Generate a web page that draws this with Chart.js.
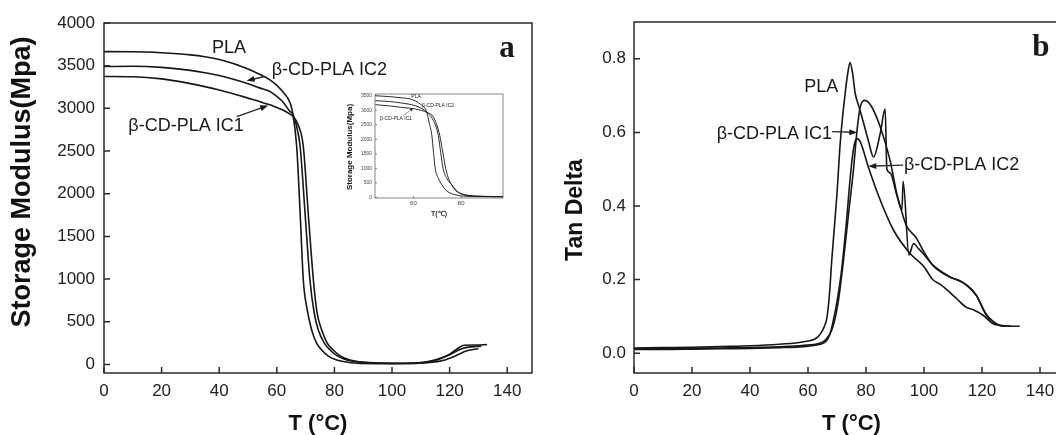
<!DOCTYPE html>
<html>
<head>
<meta charset="utf-8">
<script src="https://cdn.jsdelivr.net/npm/chart.js@4.4.1/dist/chart.umd.min.js"></script>
<style>
  html, body { margin: 0; padding: 0; background: #fff; overflow: hidden; }
  #wrap { position: relative; width: 1056px; height: 435px; overflow: hidden; }
  canvas { position: absolute; }
</style>
</head>
<body>
<div id="wrap">
  <canvas id="modulus" width="540" height="435" style="left:0;top:0"></canvas>
  <canvas id="tandelta" width="540" height="435" style="left:540px;top:0"></canvas>
  <canvas id="inset" width="180" height="140" style="left:330px;top:84px"></canvas>
</div>
<script>
// ---- data ----
// (a) storage modulus, MPa vs T in C
var plaT = [0, 10, 20, 30, 35, 40, 44, 47, 50, 54, 57.6, 60, 62, 64.6, 65.5, 66.9, 68.1, 69.2, 70.5, 72.1, 73.8, 75.6, 78, 80.8, 84, 87.7, 95, 105, 110, 114, 117, 120, 123.6, 125, 129, 133];
var plaE = [3665, 3664, 3652, 3627, 3605, 3572, 3535, 3500, 3462, 3400, 3334, 3270, 3197, 3065, 2950, 2553, 1775, 990, 650, 404, 250, 170, 95, 53, 28, 14, 10, 12, 18, 35, 70, 120, 205, 225, 228, 232];
var ic2T = [0, 10, 20, 30, 35, 40, 44, 47, 50, 54, 57.6, 60, 62, 64.6, 65.5, 66.8, 68.1, 69.8, 71.5, 73, 74.4, 76.5, 78.5, 81, 84.3, 88, 95, 105, 110, 114, 117, 120, 123.6, 126, 131];
var ic2E = [3490, 3493, 3480, 3445, 3418, 3385, 3350, 3320, 3288, 3240, 3197, 3140, 3080, 2963, 2935, 2800, 2553, 1775, 990, 600, 404, 250, 170, 100, 53, 30, 18, 15, 22, 45, 75, 115, 175, 200, 215];
var ic1T = [0, 10, 20, 30, 35, 40, 44, 47, 50, 54, 57.6, 60, 62, 64.6, 65.5, 67.5, 69.2, 70.9, 72.7, 74, 75.6, 77.5, 79.6, 82, 85.4, 90, 100, 110, 114, 118, 122, 126, 130];
var ic1E = [3373, 3370, 3345, 3290, 3255, 3215, 3180, 3150, 3120, 3080, 3041, 3010, 2983, 2932, 2910, 2800, 2553, 1775, 990, 600, 404, 250, 170, 100, 53, 25, 12, 15, 25, 50, 100, 160, 185];

// inset of (a)
var inPlaT = [44, 50, 55, 58.6, 62.8, 65.6, 66.5, 67.7, 68.4, 69.1, 70.5, 71.9, 74, 77.5, 82, 90, 97.5];
var inPlaE = [3500, 3470, 3430, 3388, 3217, 2930, 2600, 2137, 1550, 1001, 650, 432, 220, 92, 40, 25, 20];
var inIc2T = [44, 50, 55, 60.7, 63.5, 65.6, 68, 70.4, 71.4, 72.4, 74, 76, 78.5, 81.7, 88, 97.5];
var inIc2E = [3330, 3300, 3250, 3160, 3060, 2930, 2700, 2137, 1550, 1001, 650, 432, 200, 92, 40, 25];
var inIc1T = [44, 50, 55, 60.7, 63.5, 65.6, 68.5, 71, 72.4, 73.5, 74.5, 76, 77.5, 80, 83, 90, 97.5];
var inIc1E = [3193, 3150, 3100, 3046, 2990, 2930, 2750, 2137, 1500, 1001, 700, 432, 250, 120, 60, 35, 25];

// (b) tan delta vs T in C
var tdPlaT = [0, 10, 20, 30, 40, 50, 57, 60, 62, 63.5, 64.5, 65.5, 66.5, 67.4, 68.2, 70, 71.1, 72.8, 73.8, 74.5, 75.3, 76.3, 77.5, 78.6, 80.8, 82.6, 84.9, 86.6, 87.2, 88.3, 90.6, 92.4, 92.8, 94.8, 96.4, 98, 100, 103, 108.8, 114.6, 118, 121.5, 124, 126, 133];
var tdPla = [0.014, 0.015, 0.016, 0.018, 0.02, 0.024, 0.029, 0.033, 0.037, 0.045, 0.055, 0.07, 0.095, 0.16, 0.253, 0.434, 0.57, 0.705, 0.765, 0.79, 0.765, 0.705, 0.672, 0.642, 0.578, 0.533, 0.597, 0.664, 0.5, 0.49, 0.43, 0.39, 0.467, 0.267, 0.298, 0.285, 0.268, 0.24, 0.208, 0.186, 0.158, 0.105, 0.085, 0.076, 0.073];
var tdIc1T = [0, 10, 20, 30, 40, 50, 57, 60, 63, 65, 66.5, 68.2, 69.5, 70.8, 72.2, 74, 75.7, 76.8, 78, 79.7, 82, 84.9, 88.3, 90.6, 92.5, 94, 97.2, 100, 103, 108.8, 112, 114.6, 118, 121.5, 124, 126, 128];
var tdIc1 = [0.012, 0.012, 0.013, 0.014, 0.015, 0.017, 0.02, 0.022, 0.025, 0.03, 0.04, 0.063, 0.1, 0.16, 0.25, 0.38, 0.5, 0.597, 0.669, 0.687, 0.669, 0.615, 0.524, 0.434, 0.38, 0.345, 0.315, 0.275, 0.239, 0.207, 0.198, 0.185, 0.157, 0.103, 0.085, 0.075, 0.073];
var tdIc2T = [0, 10, 20, 30, 40, 50, 57, 60, 63, 65.5, 66.5, 67.5, 68.5, 70, 71.5, 73.1, 74.8, 75.8, 76.8, 78, 80.8, 84.9, 89.5, 95.2, 100, 103, 106, 111, 114.5, 117, 120.4, 123.8, 127, 130];
var tdIc2 = [0.01, 0.01, 0.011, 0.012, 0.013, 0.015, 0.017, 0.019, 0.022, 0.028, 0.035, 0.05, 0.08, 0.14, 0.22, 0.343, 0.497, 0.56, 0.583, 0.575, 0.506, 0.416, 0.334, 0.271, 0.235, 0.2, 0.185, 0.15, 0.125, 0.118, 0.103, 0.08, 0.075, 0.073];

// tick values
var tempTicks = [0, 20, 40, 60, 80, 100, 120, 140];
var modTicks = [0, 500, 1000, 1500, 2000, 2500, 3000, 3500, 4000];
var tanTicks = [0, 0.2, 0.4, 0.6, 0.8];
var inTempTicks = [60, 80];
var inModTicks = [0, 500, 1000, 1500, 2000, 2500, 3000, 3500];

Chart.defaults.font.family = "'Liberation Sans', Arial, sans-serif";
Chart.defaults.color = '#222';

function lineSet(xs, ys, w) {
  return {
    data: xs.map(function (x, i) { return { x: x, y: ys[i] }; }),
    borderColor: '#161616',
    borderWidth: w,
    pointRadius: 0,
    fill: false,
    cubicInterpolationMode: 'monotone'
  };
}

function useTicks(vals) {
  return function (scale) {
    scale.ticks = vals.map(function (v) { return { value: v }; });
  };
}

function drawArrow(ctx, x0, y0, x1, y1, h, w) {
  var a = Math.atan2(y1 - y0, x1 - x0);
  var c = Math.cos(a), s = Math.sin(a);
  ctx.beginPath();
  ctx.moveTo(x0, y0);
  ctx.lineTo(x1 - h * 0.7 * c, y1 - h * 0.7 * s);
  ctx.stroke();
  ctx.beginPath();
  ctx.moveTo(x1, y1);
  ctx.lineTo(x1 - h * c + w * s, y1 - h * s - w * c);
  ctx.lineTo(x1 - h * c - w * s, y1 - h * s + w * c);
  ctx.closePath();
  ctx.fill();
}

// frame, inward ticks, labels on the curves, arrows and the y title
var decor = {
  id: 'decor',
  afterDraw: function (chart, args, o) {
    var ctx = chart.ctx, a = chart.chartArea;
    var sx = chart.scales.x, sy = chart.scales.y;
    ctx.save();
    ctx.strokeStyle = o.frameColor || '#2a2a2a';
    ctx.fillStyle = '#1a1a1a';
    ctx.lineWidth = o.frameWidth || 1.5;
    ctx.strokeRect(a.left, a.top, a.right - a.left, a.bottom - a.top);
    var len = o.tickLen || 6;
    ctx.beginPath();
    sx.ticks.forEach(function (t) {
      var p = sx.getPixelForValue(t.value);
      ctx.moveTo(p, a.bottom);
      ctx.lineTo(p, a.bottom - len);
    });
    sy.ticks.forEach(function (t) {
      var p = sy.getPixelForValue(t.value);
      ctx.moveTo(a.left, p);
      ctx.lineTo(a.left + len, p);
    });
    ctx.stroke();

    ctx.textBaseline = 'middle';
    (o.notes || []).forEach(function (n) {
      ctx.font = n.font;
      ctx.textAlign = n.align || 'left';
      ctx.fillText(n.text, sx.getPixelForValue(n.at[0]), sy.getPixelForValue(n.at[1]));
    });
    ctx.lineWidth = o.arrowWidth || 1.4;
    (o.arrows || []).forEach(function (r) {
      drawArrow(ctx,
        sx.getPixelForValue(r.from[0]), sy.getPixelForValue(r.from[1]),
        sx.getPixelForValue(r.to[0]), sy.getPixelForValue(r.to[1]),
        o.headLen || 8, o.headHalf || 3);
    });
    if (o.yTitle) {
      ctx.save();
      ctx.translate(o.yTitle.x, o.yTitle.y);
      ctx.rotate(-Math.PI / 2);
      ctx.textAlign = 'center';
      ctx.font = o.yTitle.font;
      ctx.fillStyle = '#111';
      ctx.fillText(o.yTitle.text, 0, 0);
      ctx.restore();
    }
    ctx.restore();
  }
};

var noteFont = "18px 'Liberation Sans', Arial, sans-serif";
var letterFont = "bold 31px 'Liberation Serif', 'Times New Roman', serif";
var titleFont = "bold 27px 'Liberation Sans', Arial, sans-serif";

function baseOptions(pad, yWidth, xHeight) {
  return {
    responsive: false,
    animation: false,
    events: [],
    layout: { padding: pad },
    plugins: { legend: { display: false }, tooltip: { enabled: false } },
    scales: {
      x: {
        type: 'linear',
        afterFit: function (s) { s.height = xHeight; },
        grid: { display: false, drawTicks: false },
        border: { display: false },
        ticks: { maxRotation: 0, autoSkip: false }
      },
      y: {
        type: 'linear',
        afterFit: function (s) { s.width = yWidth; },
        grid: { display: false, drawTicks: false },
        border: { display: false },
        ticks: { autoSkip: false }
      }
    }
  };
}

// ---- (a) storage modulus ----
var optA = baseOptions({ top: 23, right: 8, left: 0, bottom: 0 }, 104, 62);
optA.scales.x.min = 0;
optA.scales.x.max = 148.6;
optA.scales.x.afterBuildTicks = useTicks(tempTicks);
optA.scales.x.ticks.padding = 8;
optA.scales.x.ticks.font = { size: 17 };
optA.scales.x.title = { display: true, text: 'T (°C)', color: '#111', font: { size: 22, weight: 'bold', lineHeight: 1 }, padding: 0 };
optA.scales.y.min = -100;
optA.scales.y.max = 4000;
optA.scales.y.afterBuildTicks = useTicks(modTicks);
optA.scales.y.ticks.padding = 9;
optA.scales.y.ticks.font = { size: 17 };
optA.scales.y.ticks.callback = function (v) { return String(v); };
optA.plugins.decor = {
  yTitle: { text: 'Storage Modulus(Mpa)', x: 23, y: 182, font: titleFont },
  notes: [
    { text: 'PLA', at: [43.4, 3706], align: 'center', font: noteFont },
    { text: 'β-CD-PLA IC2', at: [58.2, 3452], font: noteFont },
    { text: 'β-CD-PLA IC1', at: [8.45, 2797], font: noteFont },
    { text: 'a', at: [139.9, 3690], align: 'center', font: letterFont }
  ],
  arrows: [
    { from: [55.7, 3373], to: [49.5, 3323] },
    { from: [46.1, 2904], to: [57, 3033] }
  ]
};

new Chart(document.getElementById('modulus'), {
  type: 'line',
  data: { datasets: [lineSet(plaT, plaE, 1.6), lineSet(ic2T, ic2E, 1.6), lineSet(ic1T, ic1E, 1.6)] },
  options: optA,
  plugins: [decor]
});

// ---- inset of (a) ----
var optI = baseOptions({ top: 10, right: 7, left: 0, bottom: 0 }, 45, 26);
optI.scales.x.min = 43.9;
optI.scales.x.max = 97.5;
optI.scales.x.afterBuildTicks = useTicks(inTempTicks);
optI.scales.x.ticks.padding = 2;
optI.scales.x.ticks.font = { size: 6 };
optI.scales.x.ticks.color = '#444';
optI.scales.x.title = { display: true, text: 'T(℃)', color: '#333', font: { size: 7, weight: 'bold', lineHeight: 1 }, padding: { top: 0, bottom: 6 } };
optI.scales.y.min = -20;
optI.scales.y.max = 3560;
optI.scales.y.afterBuildTicks = useTicks(inModTicks);
optI.scales.y.ticks.padding = 3;
optI.scales.y.ticks.font = { size: 5 };
optI.scales.y.ticks.color = '#444';
optI.scales.y.ticks.callback = function (v) { return String(v); };
optI.plugins.decor = {
  frameColor: '#666', frameWidth: 0.8, tickLen: 2, arrowWidth: 0.7, headLen: 3, headHalf: 1.3,
  yTitle: { text: 'Storage Modulus(Mpa)', x: 20, y: 63, font: "bold 8px 'Liberation Sans', Arial, sans-serif" },
  notes: [
    { text: 'PLA', at: [61.1, 3466], align: 'center', font: "5px 'Liberation Sans', Arial, sans-serif" },
    { text: 'β-CD-PLA IC2', at: [63.6, 3176], font: "5px 'Liberation Sans', Arial, sans-serif" },
    { text: 'β-CD-PLA IC1', at: [46, 2700], font: "5px 'Liberation Sans', Arial, sans-serif" }
  ],
  arrows: [
    { from: [55.7, 2820], to: [59.8, 3060] }
  ]
};

new Chart(document.getElementById('inset'), {
  type: 'line',
  data: { datasets: [lineSet(inPlaT, inPlaE, 0.9), lineSet(inIc2T, inIc2E, 0.9), lineSet(inIc1T, inIc1E, 0.9)] },
  options: optI,
  plugins: [decor]
});

// ---- (b) tan delta ----
var optB = baseOptions({ top: 22, right: 11, left: 0, bottom: 0 }, 94, 62);
optB.scales.x.min = 0;
optB.scales.x.max = 150;
optB.scales.x.afterBuildTicks = useTicks(tempTicks);
optB.scales.x.ticks.padding = 8;
optB.scales.x.ticks.font = { size: 17 };
optB.scales.x.title = { display: true, text: 'T (°C)', color: '#111', font: { size: 22, weight: 'bold', lineHeight: 1 }, padding: 0 };
optB.scales.y.min = -0.054;
optB.scales.y.max = 0.9;
optB.scales.y.afterBuildTicks = useTicks(tanTicks);
optB.scales.y.ticks.padding = 8;
optB.scales.y.ticks.font = { size: 17 };
optB.scales.y.ticks.callback = function (v) { return v.toFixed(1); };
optB.plugins.decor = {
  yTitle: { text: 'Tan Delta', x: 36, y: 210, font: "bold 23px 'Liberation Sans', Arial, sans-serif" },
  notes: [
    { text: 'PLA', at: [64.6, 0.722], align: 'center', font: noteFont },
    { text: 'β-CD-PLA IC1', at: [68.3, 0.595], align: 'right', font: noteFont },
    { text: 'β-CD-PLA IC2', at: [93.1, 0.511], font: noteFont },
    { text: 'b', at: [140.3, 0.83], align: 'center', font: letterFont }
  ],
  arrows: [
    { from: [68.3, 0.602], to: [77, 0.6] },
    { from: [92.8, 0.511], to: [80.8, 0.508] }
  ]
};

new Chart(document.getElementById('tandelta'), {
  type: 'line',
  data: { datasets: [lineSet(tdPlaT, tdPla, 1.6), lineSet(tdIc1T, tdIc1, 1.6), lineSet(tdIc2T, tdIc2, 1.6)] },
  options: optB,
  plugins: [decor]
});
</script>
</body>
</html>
